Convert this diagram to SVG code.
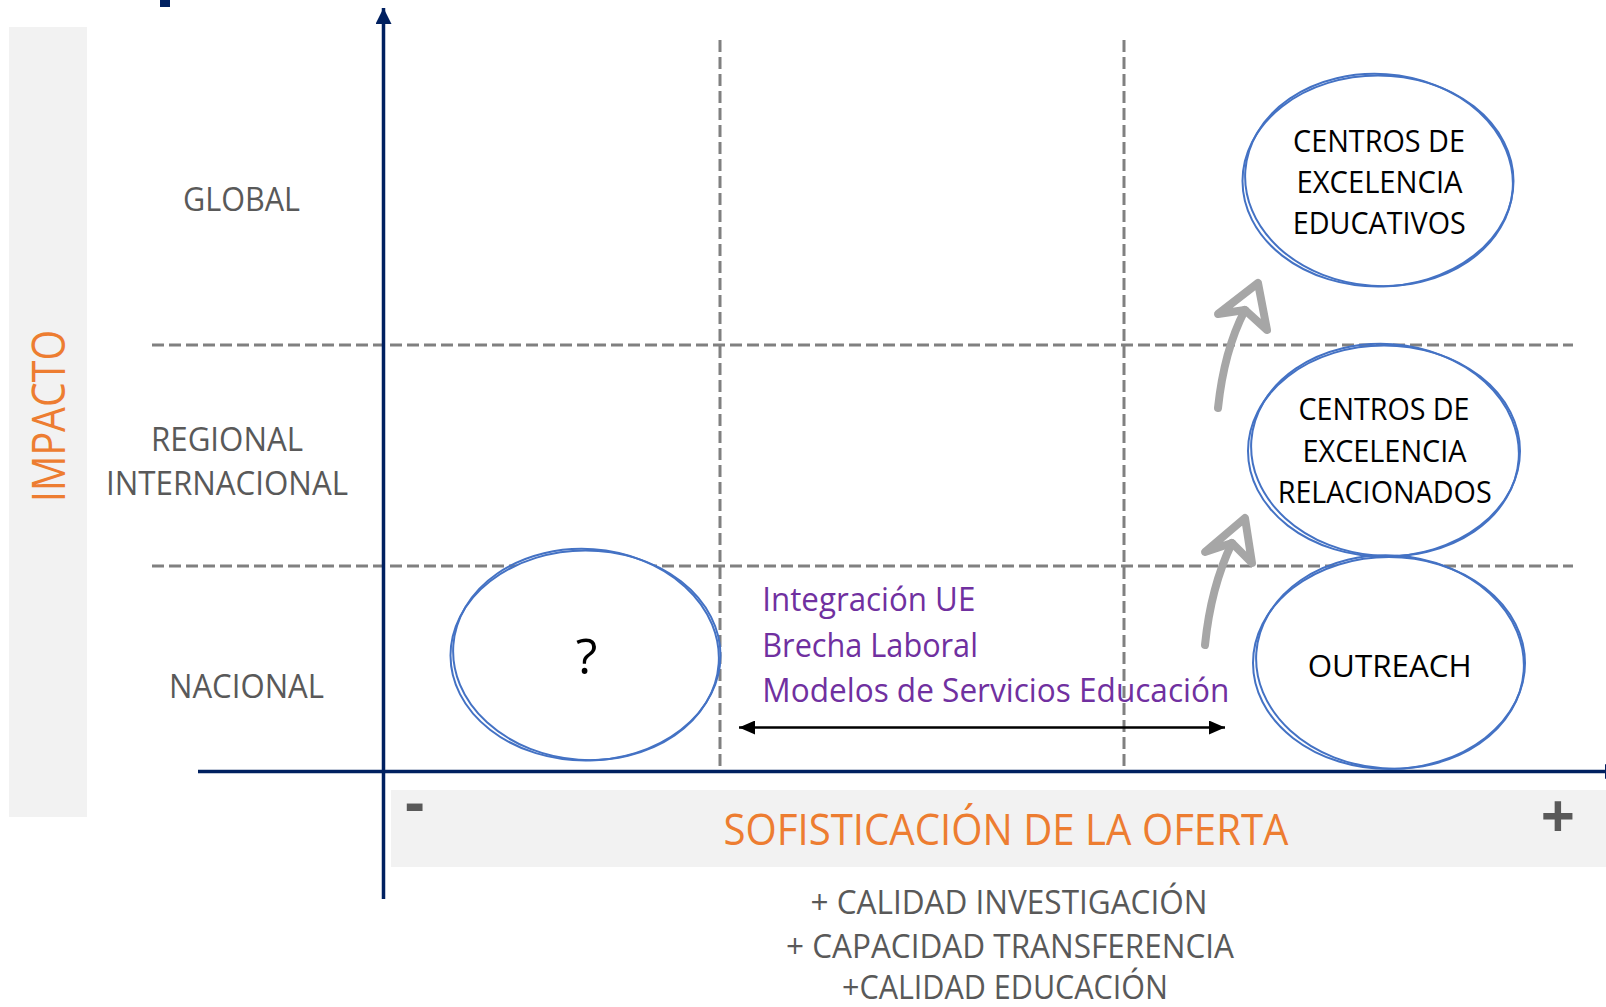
<svg xmlns="http://www.w3.org/2000/svg" width="1606" height="1007" viewBox="0 0 1606 1007">
<style>
  text { font-family: "Open Sans", "Liberation Sans", sans-serif; }
  .lbl { fill: #595959; font-size: 33px; text-anchor: middle; }
  .axisname { fill: #ED7D31; text-anchor: middle; }
  .node { fill: #FFFFFF; stroke: #4472C4; stroke-width: 2; }
  .node2 { fill: none; stroke: #4472C4; stroke-width: 2; }
  .ntxt { fill: #000000; font-size: 31px; text-anchor: middle; }
  .qmark { fill: #000000; font-size: 50px; text-anchor: middle; }
  .purple { fill: #7030A0; font-size: 32px; }
  .grid { stroke: #808080; stroke-width: 3; stroke-dasharray: 12 5; fill: none; }
  .axis { stroke: #002060; stroke-width: 3.5; fill: none; }
  .grow { stroke: #A6A6A6; stroke-width: 8; fill: none; stroke-linecap: round; stroke-linejoin: round; }
  .bottom { fill: #595959; font-size: 32px; text-anchor: middle; }
</style>
<defs>
  <marker id="ah" viewBox="0 0 16 14" refX="16" refY="7" markerWidth="16" markerHeight="14" markerUnits="userSpaceOnUse" orient="auto-start-reverse">
    <path d="M0,0 L16,7 L0,14 z" fill="#000000"/>
  </marker>
  <marker id="navyah" viewBox="0 0 16 16" refX="16" refY="8" markerWidth="16" markerHeight="16" markerUnits="userSpaceOnUse" orient="auto">
    <path d="M0,0 L16,8 L0,16 z" fill="#002060"/>
  </marker>
</defs>
<rect width="1606" height="1007" fill="#FFFFFF"/>

<!-- backgrounds -->
<rect x="9" y="27" width="78" height="790" fill="#F2F2F2"/>
<rect x="391" y="790" width="1215" height="77" fill="#F2F2F2"/>
<rect x="160" y="0" width="10" height="7" fill="#002060"/>

<!-- grid lines -->
<g id="grid">
  <line class="grid" x1="152" y1="345" x2="1573" y2="345"/>
  <line class="grid" x1="152" y1="566" x2="1573" y2="566"/>
  <line class="grid" x1="720" y1="40" x2="720" y2="771"/>
  <line class="grid" x1="1124" y1="40" x2="1124" y2="771"/>
</g>

<!-- axes -->
<g id="axes">
  <line class="axis" x1="383.5" y1="899" x2="383.5" y2="8" marker-end="url(#navyah)"/>
  <line class="axis" x1="198" y1="771.5" x2="1610" y2="771.5"/>
  <path d="M1605,764 L1620,771.5 L1605,779 z" fill="#002060"/>
</g>

<!-- axis labels -->
<g id="labels">
  <text class="axisname" font-size="46" transform="translate(65,416) rotate(-90)" x="0" y="0" textLength="172" lengthAdjust="spacingAndGlyphs">IMPACTO</text>
  <text class="lbl" x="241.5" y="210.7" textLength="117" lengthAdjust="spacingAndGlyphs">GLOBAL</text>
  <text class="lbl" x="227" y="451" textLength="152" lengthAdjust="spacingAndGlyphs">REGIONAL</text>
  <text class="lbl" x="227" y="495" textLength="242" lengthAdjust="spacingAndGlyphs">INTERNACIONAL</text>
  <text class="lbl" x="246.5" y="698" textLength="155" lengthAdjust="spacingAndGlyphs">NACIONAL</text>
  <text class="axisname" font-size="43" x="1006" y="845" textLength="565" lengthAdjust="spacingAndGlyphs">SOFISTICACIÓN DE LA OFERTA</text>
  <text x="405" y="824" font-size="60" font-weight="bold" fill="#595959">-</text>
  <text x="1558" y="838" font-size="60" font-weight="bold" fill="#595959" text-anchor="middle">+</text>
  <text class="bottom" x="1009" y="914" textLength="397" lengthAdjust="spacingAndGlyphs">+ CALIDAD INVESTIGACIÓN</text>
  <text class="bottom" x="1010" y="958" textLength="448" lengthAdjust="spacingAndGlyphs">+ CAPACIDAD TRANSFERENCIA</text>
  <text class="bottom" x="1005" y="999" textLength="326" lengthAdjust="spacingAndGlyphs">+CALIDAD EDUCACIÓN</text>
</g>

<!-- nodes -->
<g id="node-unknown">
  <ellipse class="node" cx="585.5" cy="655.5" rx="135" ry="105"/>
  <ellipse class="node2" cx="586" cy="654.5" rx="133" ry="105.5" transform="rotate(4 586 654.5)"/>
  <text class="qmark" x="586.5" y="674">?</text>
</g>
<g id="node-educativos">
  <ellipse class="node" cx="1378" cy="181" rx="135.5" ry="105.5"/>
  <ellipse class="node2" cx="1379" cy="180" rx="134" ry="106" transform="rotate(4 1379 180)"/>
  <text class="ntxt" x="1379" y="151.7" textLength="172" lengthAdjust="spacingAndGlyphs">CENTROS DE</text>
  <text class="ntxt" x="1379.5" y="193.3" textLength="166" lengthAdjust="spacingAndGlyphs">EXCELENCIA</text>
  <text class="ntxt" x="1379.3" y="234" textLength="173" lengthAdjust="spacingAndGlyphs">EDUCATIVOS</text>
</g>
<g id="node-relacionados">
  <ellipse class="node" cx="1384" cy="451" rx="136" ry="105.5"/>
  <ellipse class="node2" cx="1385" cy="450" rx="134" ry="106" transform="rotate(4 1385 450)"/>
  <text class="ntxt" x="1384" y="420" textLength="171" lengthAdjust="spacingAndGlyphs">CENTROS DE</text>
  <text class="ntxt" x="1384.5" y="461.7" textLength="164" lengthAdjust="spacingAndGlyphs">EXCELENCIA</text>
  <text class="ntxt" x="1384.7" y="503.3" textLength="214" lengthAdjust="spacingAndGlyphs">RELACIONADOS</text>
</g>
<g id="node-outreach">
  <ellipse class="node" cx="1389" cy="663" rx="136" ry="106"/>
  <ellipse class="node2" cx="1390" cy="662" rx="134" ry="106.5" transform="rotate(4 1390 662)"/>
  <text class="ntxt" x="1389.7" y="676.7" textLength="164" lengthAdjust="spacingAndGlyphs">OUTREACH</text>
</g>

<!-- purple notes -->
<g id="notes">
  <text class="purple" x="762.3" y="611" textLength="213" lengthAdjust="spacingAndGlyphs">Integración UE</text>
  <text class="purple" x="762.3" y="656.7" textLength="215.6" lengthAdjust="spacingAndGlyphs">Brecha Laboral</text>
  <text class="purple" x="762.3" y="701.7" textLength="467" lengthAdjust="spacingAndGlyphs">Modelos de Servicios Educación</text>
</g>

<!-- connectors -->
<g id="connectors">
  <line x1="739" y1="727.5" x2="1225" y2="727.5" stroke="#000000" stroke-width="2.5" marker-start="url(#ah)" marker-end="url(#ah)"/>
  <path class="grow" d="M1205,645 C1209,605 1219,570 1232,543"/>
  <path class="grow" d="M1232,543 L1205,552 L1245,518 L1252,563 Z"/>
  <path class="grow" d="M1218,408 C1222,370 1232,335 1245,310"/>
  <path class="grow" d="M1245,310 L1218,314 L1258,283 L1267,330 Z"/>
</g>
</svg>
